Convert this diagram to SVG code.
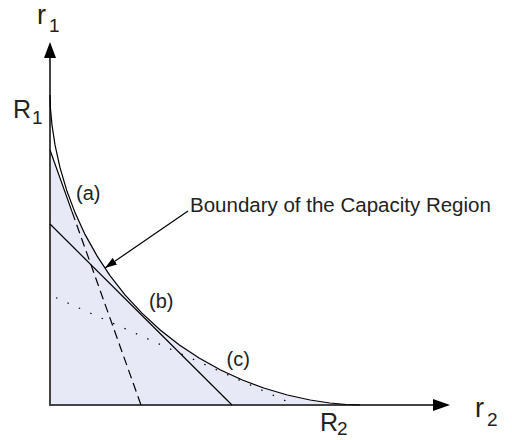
<svg xmlns="http://www.w3.org/2000/svg" width="512" height="440" viewBox="0 0 512 440">
<style>
.lbl{font-family:"Liberation Sans",Arial,sans-serif;fill:#222}
.big{font-size:25px}
.rr{font-size:27px}
.sub{font-size:19px}
.mid{font-size:20px}
.ln{fill:none;stroke:#000;stroke-width:1.2}
.ax{fill:none;stroke:#444;stroke-width:2}
</style>
<defs>
<marker id="ah" markerWidth="12" markerHeight="8" refX="12" refY="4" orient="auto" markerUnits="userSpaceOnUse">
<path d="M0,0 L12,4 L0,8 Z" fill="#000"/>
</marker>
</defs>
<g id="region">
<path d="M50,150 L72,211.6 L75,213 L85,234.4 L97,255.9 L110,275.6 L125,294.8 L142,313.2 L160.2,330 L179.4,345 L199.1,358 L220.6,370 L242.4,380 L263.7,388 L287.4,395 L310.1,400 L329.9,403 L346.2,404.5 L360,405 L50,405 Z" fill="#e7e9f6"/>
</g>
<g id="axes">
<line class="ax" x1="50" y1="405" x2="50" y2="56" stroke-width="1.6"/>
<path d="M50,42 L44,58 L56,58 Z" fill="#000"/>
<line class="ax" x1="49" y1="405" x2="435" y2="405"/>
<path d="M450,405 L433,399 L433,411 Z" fill="#000"/>
</g>
<g id="connectors">
<line class="ln" x1="50" y1="150" x2="72" y2="211.6"/>
<line class="ln" x1="72" y1="211.6" x2="141" y2="405" stroke-dasharray="9 5"/>
<line class="ln" x1="50" y1="224" x2="232" y2="405"/>
<line class="ln" x1="56" y1="297.7" x2="295" y2="405" stroke-width="1.5" stroke-dasharray="1.5 11"/>
<line class="ln" x1="188" y1="211" x2="105" y2="268" marker-end="url(#ah)"/>
</g>
<g id="boundary">
<polyline class="ln" stroke-width="1.3" points="50,95 50.5,108.8 52,125.1 55,144.9 60,167.6 67,191.3 75,212.6 85,234.4 97,255.9 110,275.6 125,294.8 142,313.2 160.2,330 179.4,345 199.1,358 220.6,370 242.4,380 263.7,388 287.4,395 310.1,400 329.9,403 346.2,404.5 360,405"/>
</g>
<g id="labels">
<text class="lbl rr" x="37" y="24">r</text><text class="lbl sub" x="49" y="32">1</text>
<text class="lbl big" x="13" y="118">R</text><text class="lbl sub" x="32" y="124">1</text>
<text class="lbl big" x="320" y="431">R</text><text class="lbl sub" x="337" y="435">2</text>
<text class="lbl rr" x="475" y="417">r</text><text class="lbl sub" x="487" y="426">2</text>
<text class="lbl mid" x="76" y="200">(a)</text>
<text class="lbl mid" x="149" y="308">(b)</text>
<text class="lbl mid" x="226.5" y="366">(c)</text>
<text class="lbl" font-size="20.5" x="190" y="211.5">Boundary of the Capacity Region</text>
</g>
</svg>
